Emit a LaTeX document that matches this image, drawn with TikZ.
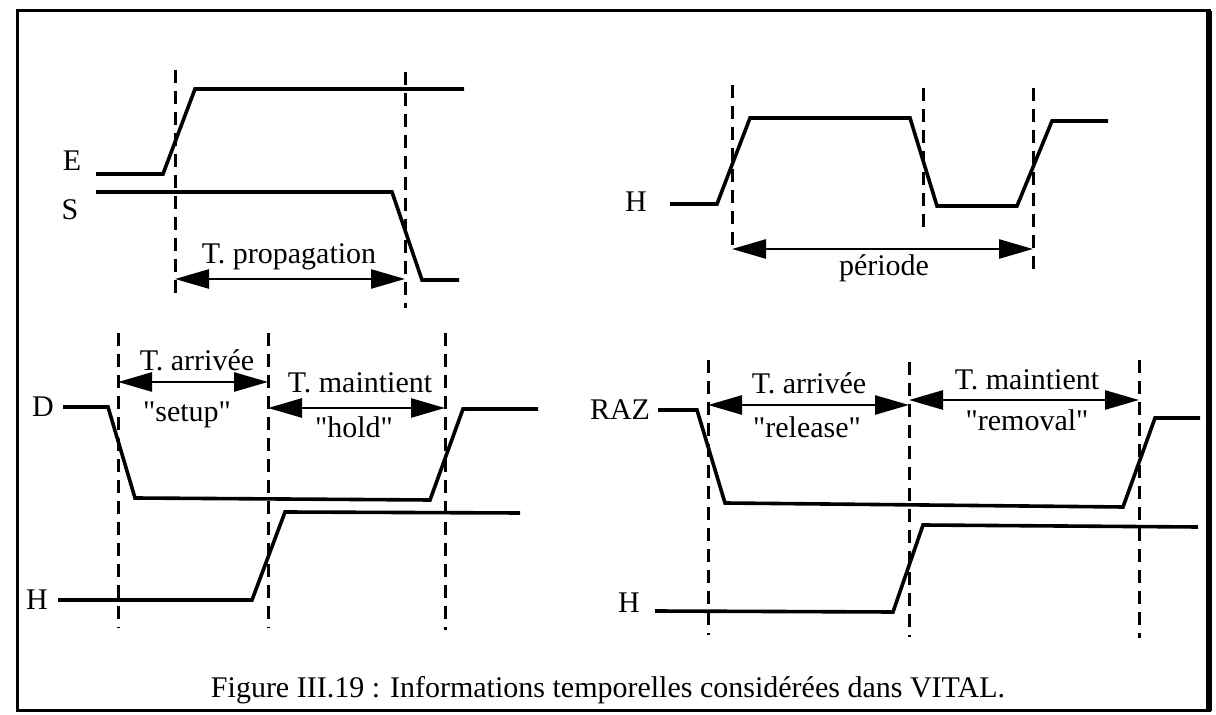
\documentclass[tikz,border=0pt]{standalone}
\usepackage{fontspec}
\setmainfont{Liberation Serif}
\usetikzlibrary{arrows.meta}
\tikzset{
  framebox/.style={line width=1.5pt},
  signalline/.style={line width=1.8pt,line join=miter},
  markerline/.style={line width=1.5pt,dash pattern=on 6.5pt off 4pt},
  timearrow/.style={{Triangle[length=17pt,width=9.5pt]}-{Triangle[length=17pt,width=9.5pt]},line width=1.3pt},
  signallabel/.style={font=\fontsize{15}{18}\selectfont,inner sep=0pt},
  timelabel/.style={font=\fontsize{15}{18}\selectfont,inner sep=0pt},
  figurelabel/.style={font=\fontsize{15}{18}\selectfont,inner sep=0pt}
}
\newcommand{\qt}[1]{\textquotedbl#1\textquotedbl}

\begin{document}
\begin{tikzpicture}[x=0.5pt,y=-0.5pt]
  \useasboundingbox (0,0) rectangle (1216,715);
  \draw[framebox] (17,11) rectangle (1209,711);
  \draw[line width=2.6pt] (1209,11) -- (1209,711);

  \node[signallabel] (lblE) at (72,161) {E};
  \node[signallabel] (lblS) at (70,210) {S};
  \draw[signalline] (96,174) -- (163,174) -- (195,89) -- (464,89);
  \draw[signalline] (96,192) -- (392,192) -- (422,280) -- (459,280);
  \draw[markerline] (175,70) -- (175,293);
  \draw[markerline] (405,72) -- (405,308);
  \coordinate (propL) at (175,279);
  \coordinate (propR) at (405,279);
  \draw[timearrow] (propL) -- (propR);
  \node[timelabel] (propagation) at (289,257) {T. propagation};

  \node[signallabel] (lblHclk) at (636,202) {H};
  \draw[signalline] (670,204) -- (717,204) -- (750,118) -- (910,118) -- (937,206)
    -- (1017,206) -- (1052,121) -- (1108,121);
  \draw[markerline] (732,85) -- (732,253);
  \draw[markerline] (923,88) -- (923,230);
  \draw[markerline] (1033,88) -- (1033,270);
  \coordinate (perL) at (732,249);
  \coordinate (perR) at (1033,249);
  \draw[timearrow] (perL) -- (perR);
  \node[timelabel] (periode) at (884,268) {période};

  \node[signallabel] (lblD) at (43,407) {D};
  \node[signallabel] (lblHd) at (37,600) {H};
  \draw[signalline] (63,407) -- (108,407) -- (135,498) -- (430,500) -- (463,409) -- (538,409);
  \draw[signalline] (58,600) -- (252,600) -- (285,512) -- (520,513);
  \draw[markerline] (118,333) -- (118,628);
  \draw[markerline] (268,333) -- (268,628);
  \draw[markerline] (445,333) -- (445,630);
  \coordinate (setupL) at (118,382);
  \coordinate (setupR) at (268,382);
  \coordinate (holdL) at (268,408);
  \coordinate (holdR) at (445,408);
  \draw[timearrow] (setupL) -- (setupR);
  \draw[timearrow] (holdL) -- (holdR);
  \node[timelabel] (arriveeD) at (197,360) {T. arrivée};
  \node[timelabel] (setup) at (187,415) {\qt{setup}};
  \node[timelabel] (maintientD) at (360,383) {T. maintient};
  \node[timelabel] (hold) at (354,427) {\qt{hold}};

  \node[signallabel] (lblRAZ) at (620,410) {RAZ};
  \node[signallabel] (lblHr) at (629,603) {H};
  \draw[signalline] (658,410) -- (697,410) -- (725,503) -- (1123,507) -- (1155,418) -- (1200,418);
  \draw[signalline] (655,611) -- (893,612) -- (923,525) -- (1198,527);
  \draw[markerline] (708,360) -- (708,635);
  \draw[markerline] (909,362) -- (909,637);
  \draw[markerline] (1139,360) -- (1139,638);
  \coordinate (releaseL) at (708,405);
  \coordinate (releaseR) at (909,405);
  \coordinate (removalL) at (909,400);
  \coordinate (removalR) at (1139,400);
  \draw[timearrow] (releaseL) -- (releaseR);
  \draw[timearrow] (removalL) -- (removalR);
  \node[timelabel] (arriveeR) at (809,383) {T. arrivée};
  \node[timelabel] (release) at (807,427) {\qt{release}};
  \node[timelabel] (maintientR) at (1027,380) {T. maintient};
  \node[timelabel] (removal) at (1027,420) {\qt{removal}};

  \node[figurelabel] (caption) at (608,690)
    {Figure III.19 : Informations temporelles considérées dans VITAL.};
\end{tikzpicture}
\end{document}
